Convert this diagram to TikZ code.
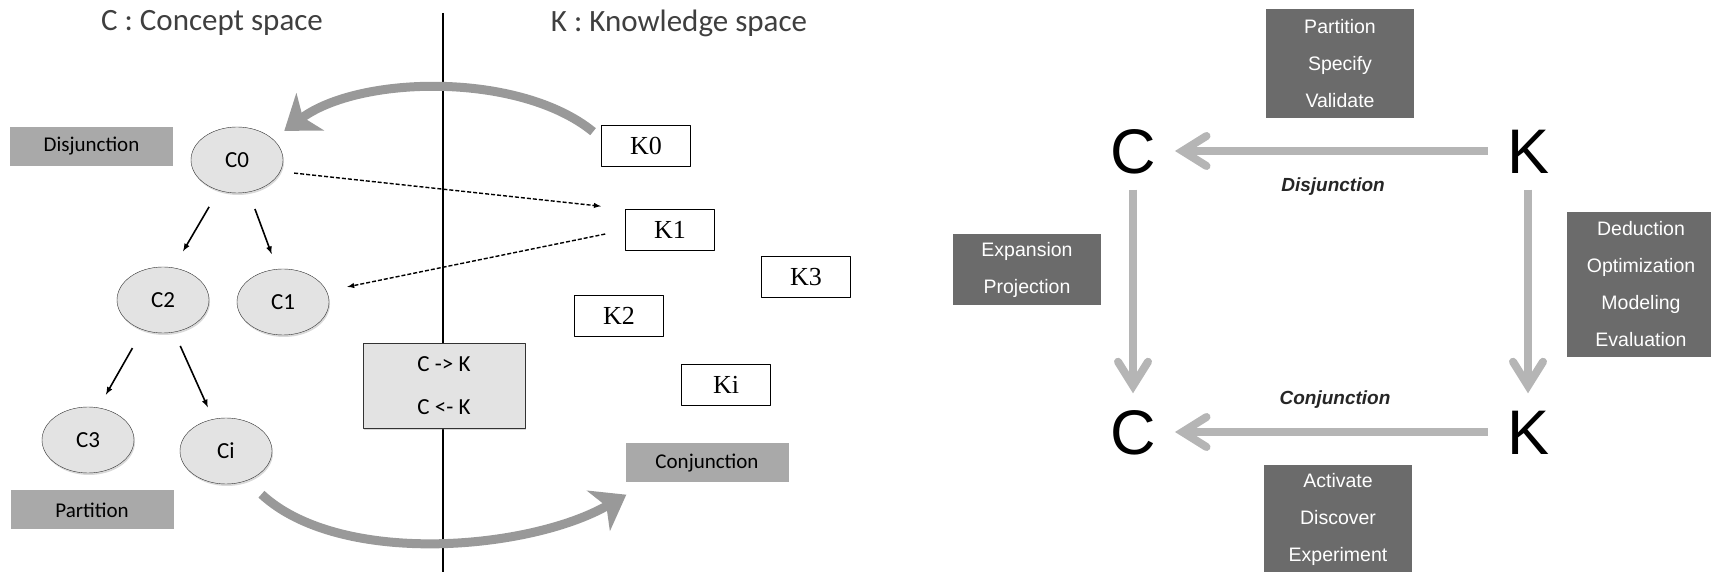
\documentclass[tikz,border=0pt]{standalone}
\usepackage{fontspec}
\setmainfont{Liberation Sans}
\newfontfamily\calfont{Carlito}
\newfontfamily\timesfont{Liberation Serif}
\usetikzlibrary{arrows.meta,shapes.geometric,shadows}
\definecolor{labelgray}{HTML}{A9A9A9}
\definecolor{cellgray}{HTML}{E3E3E3}
\definecolor{opgray}{HTML}{6B6B6B}
\definecolor{swooshgray}{HTML}{999999}
\definecolor{flowgray}{HTML}{B5B5B5}
\definecolor{titlegray}{HTML}{3F3F3F}
\begin{document}
\begin{tikzpicture}[>=latex,line join=bevel,
  title/.style={inner sep=0pt,text=titlegray,font=\calfont\fontsize{31bp}{36bp}\selectfont},
  concept/.style={ellipse,draw=black!80,fill=cellgray,minimum width=92bp,minimum height=66bp,inner sep=0pt,
    font=\calfont\fontsize{23bp}{26bp}\selectfont,drop shadow={shadow xshift=1bp,shadow yshift=-2bp,opacity=0.3}},
  knowbox/.style={draw=black,line width=1.4bp,fill=white,minimum width=89bp,minimum height=41bp,inner sep=0pt,
    font=\timesfont\fontsize{26bp}{30bp}\selectfont},
  tagbox/.style={fill=labelgray,minimum width=163bp,minimum height=39bp,inner sep=0pt,
    font=\calfont\fontsize{21bp}{24bp}\selectfont},
  opbox/.style={fill=opgray,text=white,minimum width=148bp,inner sep=0pt,align=center,
    font=\fontsize{19.5bp}{37bp}\selectfont},
  letter/.style={font=\fontsize{63bp}{70bp}\selectfont,text height=45bp,text depth=0bp,inner xsep=19bp,inner ysep=16bp},
  swoosh/.style={draw=swooshgray,line width=9bp,-{Stealth[length=32bp,width=46bp,inset=9bp]}},
  flow/.style={draw=flowgray,line width=8bp,-{Straight Barb[length=24bp,width=30bp,line cap=round]}},
  tree/.style={black,->,line width=1.6bp},
  hint/.style={black,->,line width=1.4bp,dash pattern=on 4bp off 2bp},
  ]
%%
\useasboundingbox (0bp,0bp) rectangle (1711bp,572bp);
%% left: C-K spaces
\coordinate (rule_top) at (443bp,559bp);
  \coordinate (rule_bot) at (443bp,0bp);
  \draw [black,line width=1.5bp] (rule_top) -- (rule_bot);
\node (title_c) at (212bp,549bp) [title] {C : Concept space};
  \node (title_k) at (679bp,549bp) [title] {K : Knowledge space};
\node (node_disj) at (91.5bp,425.5bp) [tagbox] {Disjunction};
  \node (node_part) at (92bp,62bp) [tagbox] {Partition};
  \node (node_conj) at (707bp,109bp) [tagbox] {Conjunction};
\node (node_c0) at (237bp,412bp) [concept] {C0};
  \node (node_c2) at (163bp,272bp) [concept] {C2};
  \node (node_c1) at (283bp,270bp) [concept] {C1};
  \node (node_c3) at (88bp,132bp) [concept] {C3};
  \node (node_ci) at (226bp,121bp) [concept] {Ci};
\node (node_k0) at (646bp,426bp) [knowbox] {K0};
  \node (node_k1) at (670bp,342bp) [knowbox] {K1};
  \node (node_k3) at (806bp,295bp) [knowbox] {K3};
  \node (node_k2) at (619bp,256bp) [knowbox] {K2};
  \node (node_ki) at (726bp,187bp) [knowbox] {Ki};
\node (node_ck) at (444bp,186bp) [draw=black!80,fill=cellgray,minimum width=162bp,minimum height=85bp,align=center,
    font=\calfont\fontsize{23bp}{43bp}\selectfont,drop shadow={shadow xshift=1bp,shadow yshift=-2bp,opacity=0.3}] {C -> K\\C <- K};
%
  \draw [tree,shorten <=19bp,shorten >=19bp] (node_c0.239) -- (node_c2.72);
  \draw [tree,shorten <=18bp,shorten >=16bp] (node_c0.290) -- (node_c1.100);
  \draw [tree,shorten <=21bp,shorten >=15bp] (node_c2.236) -- (node_c3.72);
  \draw [tree,shorten <=15bp,shorten >=13bp] (node_c2.289) -- (node_ci.112);
  \draw [hint,shorten <=14bp,shorten >=24bp] (node_c0.-15) -- (node_k1.north west);
  \draw [hint,shorten <=20bp,shorten >=21bp] (node_k1.west) -- (node_c1.14);
%
  \draw [swoosh,shorten <=10bp,shorten >=14bp] (node_k0.170) ..controls (520bp,500bp) and (360bp,497bp)  .. (node_c0.30);
  \draw [swoosh,shorten <=20bp] (node_ci.-55) ..controls (340bp,5bp) and (530bp,22bp)  .. ([xshift=1bp,yshift=-12bp]node_conj.south west);
%% right: C-K square
\node (node_cu) at (1133bp,421bp) [letter] {C};
  \node (node_ku) at (1528bp,421bp) [letter] {K};
  \node (node_cd) at (1133bp,140bp) [letter] {C};
  \node (node_kd) at (1528bp,140bp) [letter] {K};
\node (lab_disj) at (1333bp,385bp) [font=\bfseries\itshape\fontsize{19bp}{22bp}\selectfont,text=black!85] {Disjunction};
  \node (lab_conj) at (1335bp,172bp) [font=\bfseries\itshape\fontsize{19bp}{22bp}\selectfont,text=black!85] {Conjunction};
\node (op_top) at (1340bp,508.5bp) [opbox,minimum height=109bp] {Partition\\Specify\\Validate};
  \node (op_left) at (1027bp,302.5bp) [opbox,minimum height=71bp] {Expansion\\Projection};
  \node (op_right) at (1641bp,287.5bp) [opbox,minimum height=145bp] {Deduction\\Optimization\\Modeling\\Evaluation};
  \node (op_bot) at (1338bp,52.5bp) [opbox,minimum height=109bp] {Activate\\Discover\\Experiment};
%
  \draw [flow] (node_ku) -- (node_cu);
  \draw [flow] (node_kd) -- (node_cd);
  \draw [flow] (node_cu) -- (node_cd);
  \draw [flow] (node_ku) -- (node_kd);
%
\end{tikzpicture}
\end{document}
